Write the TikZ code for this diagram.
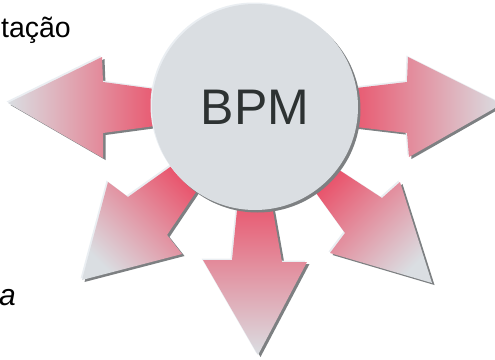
\documentclass[tikz,border=0pt]{standalone}
\usepackage{fontspec}
\setmainfont{Liberation Sans}
\definecolor{arrowred}{RGB}{233,84,108}
\definecolor{arrowgray}{RGB}{218,222,226}
\definecolor{circlefill}{RGB}{218,222,226}
\definecolor{shadowc}{RGB}{125,128,130}
\definecolor{lightc}{RGB}{234,238,242}
\definecolor{bpmtext}{RGB}{45,50,50}
\newcommand\ArrowLayers[2]{%
  \fill[shadowc, shift={(2.5,2)}] #1;
  \fill[lightc, shift={(-1.5,-1.5)}] #1;
  \shade[#2] #1;
}
\begin{document}
\begin{tikzpicture}[x=1pt, y=-1pt,
  label text/.style={inner sep=0, anchor=base east, font=\fontsize{28.5}{34}\selectfont},
  hub/.style={circle, fill=circlefill, minimum size=206pt, inner sep=0,
    text=bpmtext, font=\fontsize{50}{60}\selectfont}]
\useasboundingbox (0,0) rectangle (495,359);
\clip (0,0) rectangle (495,359);
% arrows
\ArrowLayers{(8,103) -- (102,57) -- (103,82) -- (162,90) -- (162,125) -- (103,133) -- (103,158) -- cycle}{left color=arrowgray, right color=arrowred}
\ArrowLayers{(502,104) -- (408,57) -- (407,82) -- (348,89) -- (348,126) -- (407,133) -- (409,157) -- cycle}{left color=arrowred, right color=arrowgray}
\ArrowLayers{(258,355) -- (203,260) -- (232,260) -- (238,200) -- (271,200) -- (282,262) -- (307,262) -- cycle}{top color=arrowred, bottom color=arrowgray}
\ArrowLayers{(82,280) -- (108,182) -- (128,197) -- (180,160) -- (200,186) -- (167,235) -- (182,254) -- cycle}{top color=arrowred, bottom color=arrowgray, shading angle=-45}
\ArrowLayers{(432,283) -- (400,182) -- (382,198) -- (330,164) -- (311,186) -- (345,233) -- (330,253) -- cycle}{top color=arrowred, bottom color=arrowgray, shading angle=45}
% hub
\fill[shadowc] (257.5,109.5) circle[radius=103pt];
\fill[lightc] (253.5,105.5) circle[radius=103pt];
\node[hub] (bpm) at (255,107) {BPM};
% texts
\node[label text] (org) at (71,37) {tação};
\node[label text, font=\fontsize{30}{36}\selectfont\itshape] (ital) at (16,305) {a};
\end{tikzpicture}
\end{document}
